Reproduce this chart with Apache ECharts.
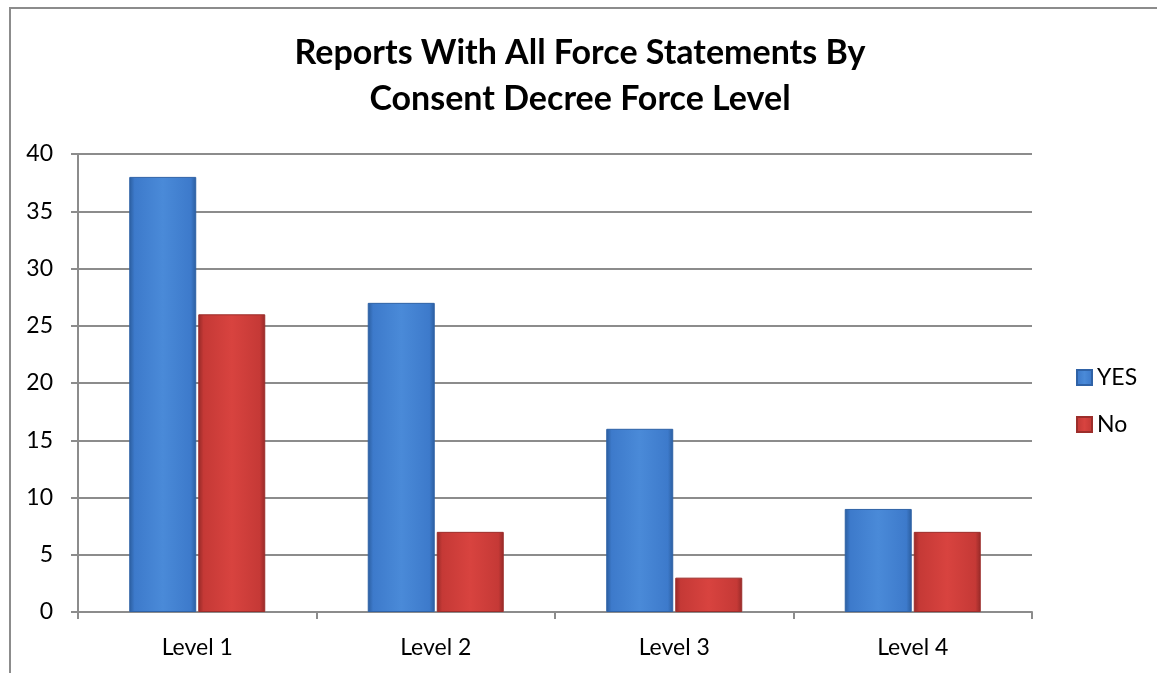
<!DOCTYPE html>
<html>
<head>
<meta charset="utf-8">
<script src="https://cdn.jsdelivr.net/npm/echarts@6/dist/echarts.min.js"></script>
<style>
html,body{margin:0;padding:0;background:#fff;}
#chart{width:1157px;height:673px;}
</style>
</head>
<body>
<div id="chart"></div>
<script>
const categories = ['Level 1', 'Level 2', 'Level 3', 'Level 4'];
const yesValues = [38, 27, 16, 9];
const noValues = [26, 7, 3, 7];
const seriesNames = ['YES', 'No'];
const titleLines = ['Reports With All Force Statements By', 'Consent Decree Force Level'];

const FONT = 'Lato, "Noto Sans", sans-serif';

function grad(dark, light, mid) {
  return {
    type: 'linear', x: 0, y: 0, x2: 1, y2: 0,
    colorStops: [
      {offset: 0, color: dark},
      {offset: 0.08, color: mid},
      {offset: 0.5, color: light},
      {offset: 0.92, color: mid},
      {offset: 1, color: dark}
    ]
  };
}

const chart = echarts.init(document.getElementById('chart'), null, {renderer: 'canvas'});
chart.setOption({
  backgroundColor: '#fff',
  animation: false,
  title: {
    text: titleLines.join('\n'),
    left: 575,
    textAlign: 'center',
    top: 25,
    textStyle: {fontFamily: FONT, fontWeight: 'bold', fontSize: 34, lineHeight: 46, color: '#000'}
  },
  graphic: [{
    type: 'rect',
    shape: {x: 10, y: 8, width: 1200, height: 700},
    style: {fill: 'none', stroke: '#8c8c8c', lineWidth: 2},
    silent: true
  }],
  legend: {
    orient: 'vertical',
    left: 1071,
    top: 361,
    itemWidth: 15,
    itemHeight: 15,
    itemGap: 24,
    icon: 'rect',
    textStyle: {fontFamily: FONT, fontSize: 23, color: '#000'},
    data: seriesNames
  },
  grid: {left: 78, right: 125, top: 154, bottom: 61},
  xAxis: {
    type: 'category',
    data: categories,
    axisLine: {lineStyle: {color: '#8c8c8c', width: 2}},
    axisTick: {show: true, length: 7, lineStyle: {color: '#8c8c8c', width: 2}},
    axisLabel: {fontFamily: FONT, fontSize: 23, color: '#000', margin: 24}
  },
  yAxis: {
    type: 'value',
    min: 0, max: 40, interval: 5,
    axisLine: {show: true, lineStyle: {color: '#8c8c8c', width: 2}},
    axisTick: {show: true, length: 7, lineStyle: {color: '#8c8c8c', width: 2}},
    splitLine: {lineStyle: {color: '#8c8c8c', width: 2}},
    axisLabel: {fontFamily: FONT, fontSize: 23, color: '#000', margin: 25}
  },
  series: [
    {
      name: seriesNames[0], type: 'bar', data: yesValues,
      barWidth: 67, barGap: '3%',
      itemStyle: {color: grad('#2b5d9e', '#4a8ad8', '#3d7acb'), borderColor: '#2f62a6', borderWidth: 1}
    },
    {
      name: seriesNames[1], type: 'bar', data: noValues,
      barWidth: 67,
      itemStyle: {color: grad('#952a28', '#d8433f', '#c53936'), borderColor: '#9c2e2b', borderWidth: 1}
    }
  ]
});
</script>
</body>
</html>
